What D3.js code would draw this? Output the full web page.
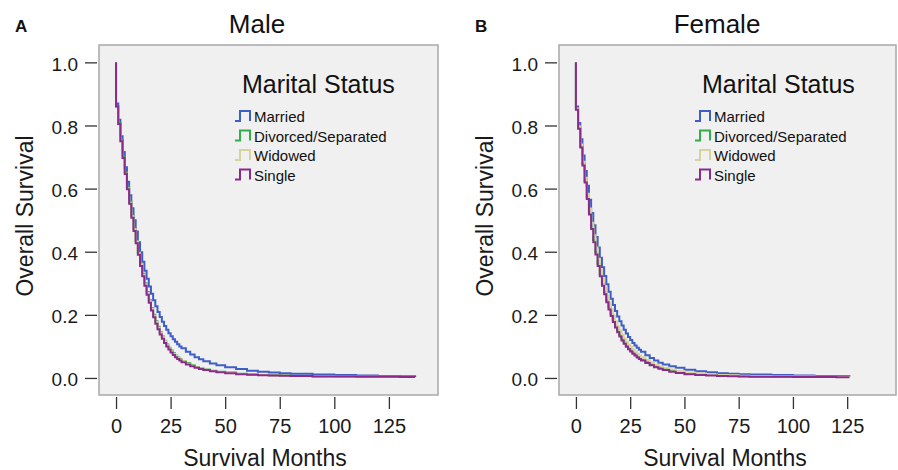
<!DOCTYPE html>
<html>
<head>
<meta charset="utf-8">
<script src="https://cdn.jsdelivr.net/npm/d3@7"></script>
<style>
  html, body { margin: 0; padding: 0; background: #fff; }
  svg { display: block; font-family: "Liberation Sans", Arial, Helvetica, sans-serif; }
</style>
</head>
<body>
<svg id="chart" width="898" height="470"></svg>
<script>
// Kaplan–Meier overall survival by marital status, male and female panels.
const groups = ["Married", "Divorced/Separated", "Widowed", "Single"];
const groupColors = ["#3d5ec6", "#2fae4a", "#d8d39c", "#8a2b8c"];
const xTicks = [0, 25, 50, 75, 100, 125];
const yTicks = [0.0, 0.2, 0.4, 0.6, 0.8, 1.0];

// Male: survival months and estimated survival for each group
const maleMonths = [0,1,2,3,4,5,6,7,8,9,10,11,12,13,14,15,16,17,18,19,20,21,22,23,24,25,26,27,28,29,30,
  32,34,36,38,40,43,46,50,55,60,65,70,75,80,90,100,110,120,130,137];
const maleMarried = [.870,.818,.766,.716,.668,.622,.579,.538,.500,.464,.430,.398,.368,.340,.314,.290,.267,.246,.227,.209,.193,.178,.165,.153,.142,.132,.123,.115,.107,.100,.094,
  .083,.074,.066,.059,.053,.046,.040,.034,.028,.023,.020,.017,.015,.013,.011,.0095,.008,.0065,.0052,.0045];
const maleDivorced = [.862,.808,.754,.702,.652,.604,.559,.515,.474,.435,.398,.363,.330,.300,.272,.246,.222,.200,.180,.162,.145,.131,.118,.106,.096,.087,.079,.071,.065,.059,.054,
  .047,.040,.035,.031,.027,.023,.020,.017,.013,.011,.0095,.0082,.0074,.0066,.0055,.0048,.0043,.0038,.0034,.0032];
const maleWidowed = [.858,.803,.749,.697,.647,.600,.555,.512,.471,.432,.395,.360,.327,.297,.269,.243,.219,.197,.177,.159,.143,.129,.116,.104,.094,.085,.077,.070,.063,.058,.053,
  .045,.039,.034,.030,.026,.022,.019,.016,.0125,.0105,.009,.0078,.007,.0062,.0052,.0046,.0041,.0036,.0033,.0031];
const maleSingle = [.860,.805,.750,.697,.646,.598,.552,.508,.466,.427,.390,.355,.322,.292,.264,.238,.214,.192,.172,.154,.138,.124,.111,.100,.090,.081,.073,.066,.060,.055,.050,
  .043,.037,.032,.028,.025,.021,.018,.015,.012,.010,.0085,.0075,.0068,.006,.005,.0045,.004,.0035,.0032,.003];

// Female: survival months and estimated survival for each group
const femaleMonths = [0,1,2,3,4,5,6,7,8,9,10,11,12,13,14,15,16,17,18,19,20,21,22,23,24,25,26,27,28,29,30,
  32,34,36,38,40,43,46,50,55,60,65,70,75,80,90,100,110,120,126];
const femaleMarried = [.860,.808,.756,.705,.656,.609,.565,.523,.484,.447,.413,.381,.351,.323,.297,.273,.251,.231,.212,.195,.180,.166,.153,.141,.130,.120,.111,.103,.096,.089,.083,
  .072,.063,.055,.048,.043,.037,.032,.026,.021,.018,.015,.013,.012,.011,.009,.0075,.0065,.006,.0055];
const femaleDivorced = [.852,.793,.734,.678,.624,.573,.525,.479,.437,.398,.362,.329,.299,.272,.247,.224,.203,.184,.166,.150,.136,.124,.113,.103,.095,.087,.080,.074,.068,.063,.058,
  .050,.043,.037,.032,.028,.023,.019,.015,.011,.009,.0075,.0064,.0056,.0049,.004,.0035,.0031,.0029,.0028];
const femaleWidowed = [.854,.797,.740,.685,.634,.584,.537,.492,.452,.413,.378,.345,.315,.287,.261,.239,.218,.198,.180,.164,.150,.137,.125,.115,.106,.098,.090,.083,.077,.071,.066,
  .057,.049,.042,.036,.032,.027,.022,.017,.014,.011,.0095,.0082,.0072,.0064,.0052,.0045,.004,.0037,.0035];
const femaleSingle = [.850,.790,.730,.673,.619,.567,.518,.472,.430,.391,.355,.322,.292,.265,.240,.217,.196,.177,.160,.145,.131,.119,.108,.099,.091,.084,.077,.071,.065,.060,.055,
  .047,.040,.034,.029,.025,.020,.016,.012,.0095,.0078,.0065,.0055,.0048,.0042,.0035,.003,.0027,.0025,.0025];

const panels = [
  { letter: "A", title: "Male", months: maleMonths,
    series: [maleMarried, maleDivorced, maleWidowed, maleSingle], x0: 99, x1: 438 },
  { letter: "B", title: "Female", months: femaleMonths,
    series: [femaleMarried, femaleDivorced, femaleWidowed, femaleSingle], x0: 559, x1: 896 }
];

const boxTop = 45, boxBottom = 395;
const svg = d3.select("#chart");

panels.forEach(p => {
  const g = svg.append("g");
  const x = d3.scaleLinear().domain([-7.8, 147.5]).range([p.x0, p.x1]);
  const y = d3.scaleLinear().domain([-0.054, 1.055]).range([boxBottom, boxTop]);

  // panel letter and title
  g.append("text").attr("x", p.x0 - 84).attr("y", 32)
    .attr("font-size", 17).attr("font-weight", "bold").attr("fill", "#111").text(p.letter);
  g.append("text").attr("x", p.x0 + 158).attr("y", 33).attr("text-anchor", "middle")
    .attr("font-size", 26).attr("fill", "#111").text(p.title);

  // plotting area
  g.append("rect").attr("x", p.x0).attr("y", boxTop)
    .attr("width", p.x1 - p.x0).attr("height", boxBottom - boxTop)
    .attr("fill", "#f0f0f0").attr("stroke", "#a8a8a8").attr("stroke-width", 1.5);

  // axes, offset slightly from the frame
  const yAxis = g.append("g").attr("transform", `translate(${p.x0 - 2},0)`)
    .call(d3.axisLeft(y).tickValues(yTicks).tickSize(12).tickPadding(7).tickFormat(d3.format(".1f")));
  const xAxis = g.append("g").attr("transform", `translate(0,${boxBottom + 2})`)
    .call(d3.axisBottom(x).tickValues(xTicks).tickSize(12).tickPadding(10));
  [yAxis, xAxis].forEach(a => {
    a.select(".domain").remove();
    a.selectAll(".tick line").attr("stroke", "#333").attr("stroke-width", 1.3);
    a.selectAll(".tick text").attr("fill", "#1a1a1a")
      .style("font-family", "'Liberation Sans', Arial, sans-serif");
  });
  yAxis.selectAll(".tick text").attr("font-size", 19).attr("dy", "0.42em");
  xAxis.selectAll(".tick text").attr("font-size", 20);

  // axis titles
  g.append("text").attr("transform", `translate(${p.x0 - 66},216) rotate(-90)`)
    .attr("text-anchor", "middle").attr("font-size", 23).attr("fill", "#1a1a1a").text("Overall Survival");
  g.append("text").attr("x", p.x0 + 166).attr("y", 466).attr("text-anchor", "middle")
    .attr("font-size", 23).attr("fill", "#1a1a1a").text("Survival Months");

  // survival step curves
  const line = d3.line().x(d => x(d[0])).y(d => y(d[1])).curve(d3.curveStepAfter);
  p.series.forEach((vals, i) => {
    const pts = [[0, 1.0]].concat(p.months.map((m, k) => [m, vals[k]]));
    g.append("path").datum(pts).attr("d", line)
      .attr("fill", "none").attr("stroke", groupColors[i]).attr("stroke-width", 2);
  });

  // legend
  const lg = g.append("g");
  lg.append("text").attr("x", p.x0 + 143).attr("y", 93)
    .attr("font-size", 25).attr("fill", "#111").text("Marital Status");
  groups.forEach((name, i) => {
    const base = 122 + i * 19.5;
    const sx = p.x0 + 136;
    lg.append("path")
      .attr("d", `M${sx},${base - 1}H${sx + 5}V${base - 11}H${sx + 15}V${base - 1}`)
      .attr("fill", "none").attr("stroke", groupColors[i]).attr("stroke-width", 2);
    lg.append("text").attr("x", p.x0 + 155).attr("y", base)
      .attr("font-size", 15).attr("fill", "#111").text(name);
  });
});
</script>
</body>
</html>
